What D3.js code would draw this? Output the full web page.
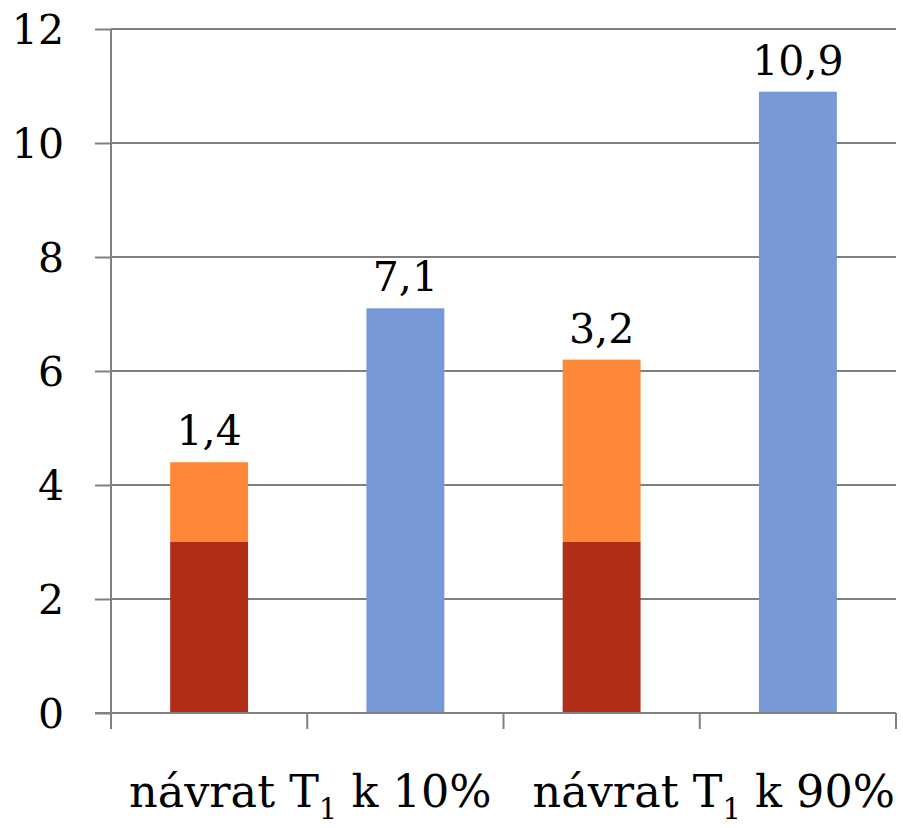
<!DOCTYPE html>
<html>
<head>
<meta charset="utf-8">
<script src="https://cdn.jsdelivr.net/npm/d3@7/dist/d3.min.js"></script>
<style>
  html, body { margin: 0; padding: 0; background: #fff; }
  svg { display: block; }
  text { font-family: "DejaVu Serif", serif; fill: #000; }
</style>
</head>
<body>
<svg id="chart" width="903" height="828"></svg>
<script>
// Bar slots, two per group
const slots = ["s1", "s2", "s3", "s4"];
const groupLabels = ["návrat T₁ k 10%", "návrat T₁ k 90%"];

// Stacked segments per slot
const baseValues = [3, 0, 3, 0];       // dark red base
const extraValues = [1.4, 0, 3.2, 0];  // orange top segment
const blueValues = [0, 7.1, 0, 10.9];  // single blue bars

const yTicks = [0, 2, 4, 6, 8, 10, 12];

const colors = { base: "#B22D18", extra: "#FD8838", blue: "#7799D8", grid: "#808080" };
const fontFamily = "DejaVu Serif";

(function draw() {
  const svg = d3.select("#chart");
  const mLeft = 111, mRight = 896, mTop = 29, mBottom = 713;

  const x = d3.scaleBand().domain(slots).range([mLeft, mRight]).paddingInner(0.603).paddingOuter(0.3015);
  const y = d3.scaleLinear().domain([0, 12]).range([mBottom, mTop]);
  const step = (mRight - mLeft) / slots.length;

  // Y axis tick marks and labels
  const yAxis = d3.axisLeft(y).tickValues(yTicks).tickSize(16).tickFormat(d => d);
  const gy = svg.append("g").attr("transform", `translate(${mLeft},0)`).call(yAxis);
  gy.select(".domain").remove();
  gy.selectAll(".tick line").attr("stroke", colors.grid).attr("stroke-width", 2);
  gy.selectAll(".tick text").attr("x", -47).attr("dy", "0.36em")
    .style("font-size", "41px").style("font-family", fontFamily);

  // Horizontal gridlines
  svg.append("g").selectAll("line").data(yTicks.filter(d => d > 0)).join("line")
    .attr("x1", mLeft).attr("x2", mRight)
    .attr("y1", d => y(d)).attr("y2", d => y(d))
    .attr("stroke", colors.grid).attr("stroke-width", 2);

  // Bars
  const series = [
    { key: "base", values: baseValues, start: () => 0 },
    { key: "extra", values: extraValues, start: i => baseValues[i] },
    { key: "blue", values: blueValues, start: () => 0 }
  ];
  series.forEach(s => {
    svg.append("g").selectAll("rect")
      .data(slots.map((slot, i) => ({ slot, i, v: s.values[i] })).filter(d => d.v > 0))
      .join("rect")
      .attr("x", d => x(d.slot))
      .attr("width", x.bandwidth())
      .attr("y", d => y(s.start(d.i) + d.v))
      .attr("height", d => y(s.start(d.i)) - y(s.start(d.i) + d.v))
      .attr("fill", colors[s.key]);
  });

  // Value labels above the bars (orange increment or blue value)
  const labelData = slots.map((slot, i) => {
    const v = extraValues[i] > 0 ? extraValues[i] : blueValues[i];
    const topVal = baseValues[i] + extraValues[i] + blueValues[i];
    return { slot, v, topVal };
  });
  svg.append("g").selectAll("text").data(labelData).join("text")
    .attr("x", d => x(d.slot) + x.bandwidth() / 2)
    .attr("y", d => y(d.topVal) - 17)
    .attr("text-anchor", "middle")
    .style("font-size", "41px")
    .text(d => String(d.v).replace(".", ","));

  // X axis line, y axis line and boundary ticks
  svg.append("line").attr("x1", mLeft - 16).attr("x2", mRight).attr("y1", mBottom).attr("y2", mBottom)
    .attr("stroke", colors.grid).attr("stroke-width", 2);
  svg.append("line").attr("x1", mLeft).attr("x2", mLeft).attr("y1", mTop).attr("y2", mBottom + 16)
    .attr("stroke", colors.grid).attr("stroke-width", 2);
  svg.append("g").selectAll("line").data(d3.range(1, slots.length + 1)).join("line")
    .attr("x1", k => mLeft + k * step).attr("x2", k => mLeft + k * step)
    .attr("y1", mBottom).attr("y2", mBottom + 16)
    .attr("stroke", colors.grid).attr("stroke-width", 2);

  // Group labels with subscript; the last one is aligned to the right edge
  const gl = svg.append("g");
  groupLabels.forEach((label, g) => {
    const last = g === groupLabels.length - 1;
    const t = gl.append("text").attr("y", 807)
      .attr("x", last ? mRight - 1 : mLeft + step * (2 * g + 1) + 3)
      .attr("text-anchor", last ? "end" : "middle")
      .style("font-size", "44.5px");
    const parts = label.split("₁");
    t.append("tspan").text(parts[0]);
    t.append("tspan").attr("dy", 12).style("font-size", "29px").text("1");
    t.append("tspan").attr("dy", -12).text(parts[1]);
  });
})();
</script>
</body>
</html>
